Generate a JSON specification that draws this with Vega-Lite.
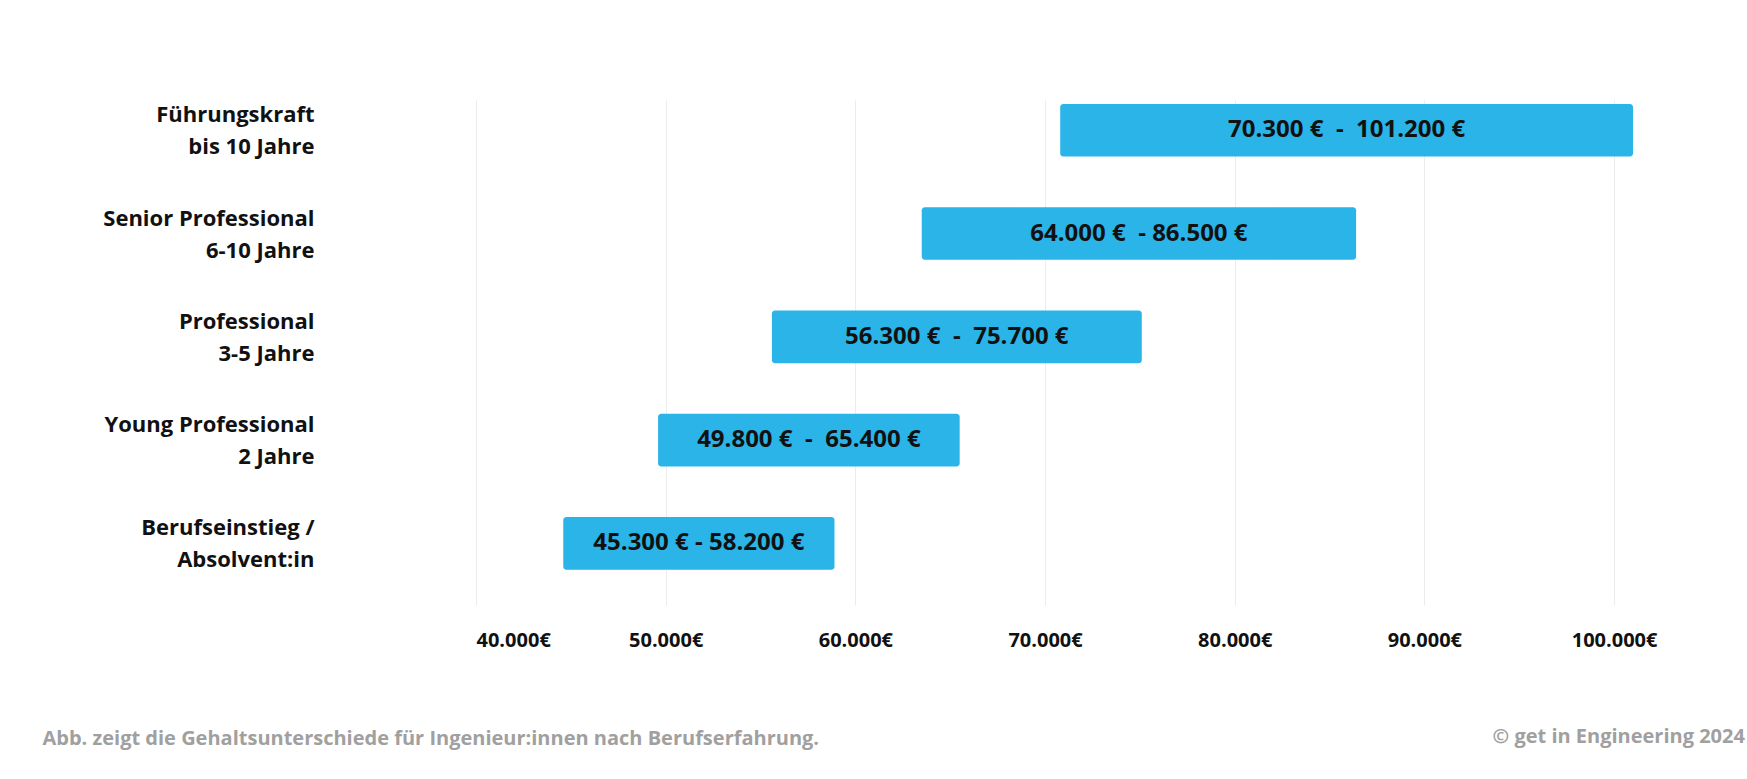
{
  "$schema": "https://vega.github.io/schema/vega-lite/v6.json",
  "autosize": {"type": "none"},
  "padding": {"left": 476, "top": 100, "right": 95, "bottom": 174},
  "width": 1176,
  "height": 505,
  "background": "white",
  "title": {
    "text": "© get in Engineering 2024",
    "orient": "top",
    "anchor": "end",
    "offset": 0,
    "baseline": "middle",
    "dy": 657,
    "dx": 88,
    "font": "Open Sans",
    "fontSize": 20,
    "fontWeight": "bold",
    "color": "#a0a0a0"
  },
  "data": {
    "values": [
      {"stufe": "Führungskraft\nbis 10 Jahre", "lo": 70800, "hi": 101000, "spanne": "70.300 €\u00a0\u00a0-\u00a0\u00a0101.200 €"},
      {"stufe": "Senior Professional\n6-10 Jahre", "lo": 63500, "hi": 86400, "spanne": "64.000 €\u00a0\u00a0- 86.500 €"},
      {"stufe": "Professional\n3-5 Jahre", "lo": 55600, "hi": 75100, "spanne": "56.300 €\u00a0\u00a0-\u00a0\u00a075.700 €"},
      {"stufe": "Young Professional\n2 Jahre", "lo": 49600, "hi": 65500, "spanne": "49.800 €\u00a0\u00a0-\u00a0\u00a065.400 €"},
      {"stufe": "Berufseinstieg /\nAbsolvent:in", "lo": 44600, "hi": 58900, "spanne": "45.300 € - 58.200 €"}
    ]
  },
  "encoding": {
    "y": {
      "field": "stufe",
      "type": "nominal",
      "sort": null,
      "scale": {"paddingInner": 0.49, "paddingOuter": 0.19, "align": 0.1},
      "axis": {
        "title": null,
        "domain": false,
        "ticks": false,
        "labelExpr": "split(datum.label, '\\n')",
        "labelFont": "Open Sans",
        "labelFontSize": 22,
        "labelFontWeight": "bold",
        "labelColor": "#111111",
        "labelLineHeight": 32,
        "labelOffset": -15,
        "labelPadding": 162,
        "labelAlign": "right",
        "labelLimit": 400
      }
    }
  },
  "layer": [
    {
      "mark": {"type": "bar", "color": "#2ab4e8", "cornerRadius": 3},
      "encoding": {
        "x": {
          "field": "lo",
          "type": "quantitative",
          "title": "Abb. zeigt die Gehaltsunterschiede für Ingenieur:innen nach Berufserfahrung.",
          "scale": {"domain": [40000, 102000], "nice": false, "zero": false},
          "axis": {
            "titleFont": "Open Sans",
            "titleFontSize": 20,
            "titleFontWeight": "bold",
            "titleColor": "#a0a0a0",
            "titleAnchor": "start",
            "titleAlign": "left",
            "titleBaseline": "middle",
            "titleX": -434,
            "titleY": 133,
            "values": [40000, 50000, 60000, 70000, 80000, 90000, 100000],
            "labelExpr": "replace(format(datum.value, ',.0f'), ',', '.') + '€'",
            "labelFont": "Open Sans",
            "labelFontSize": 20,
            "labelFontWeight": "bold",
            "labelColor": "#111111",
            "labelPadding": 25,
            "domain": false,
            "ticks": false,
            "grid": true,
            "gridColor": "#ececec",
            "gridWidth": 1
          }
        },
        "x2": {"field": "hi"}
      }
    },
    {
      "transform": [{"fold": ["lo", "hi"], "as": ["grenze", "betrag"]}],
      "mark": {"type": "text", "align": "center", "baseline": "middle", "font": "Open Sans", "fontSize": 24, "fontWeight": "bold", "color": "#111111"},
      "encoding": {
        "x": {
          "aggregate": "mean",
          "field": "betrag",
          "type": "quantitative",
          "title": "Abb. zeigt die Gehaltsunterschiede für Ingenieur:innen nach Berufserfahrung.",
          "axis": {
            "titleFont": "Open Sans",
            "titleFontSize": 20,
            "titleFontWeight": "bold",
            "titleColor": "#a0a0a0",
            "titleAnchor": "start",
            "titleAlign": "left",
            "titleBaseline": "middle",
            "titleX": -434,
            "titleY": 133,
            "values": [40000, 50000, 60000, 70000, 80000, 90000, 100000],
            "labelExpr": "replace(format(datum.value, ',.0f'), ',', '.') + '€'",
            "labelFont": "Open Sans",
            "labelFontSize": 20,
            "labelFontWeight": "bold",
            "labelColor": "#111111",
            "labelPadding": 25,
            "domain": false,
            "ticks": false,
            "grid": true,
            "gridColor": "#ececec",
            "gridWidth": 1
          }
        },
        "text": {"field": "spanne", "type": "nominal"}
      }
    }
  ],
  "config": {"view": {"stroke": null}}
}
